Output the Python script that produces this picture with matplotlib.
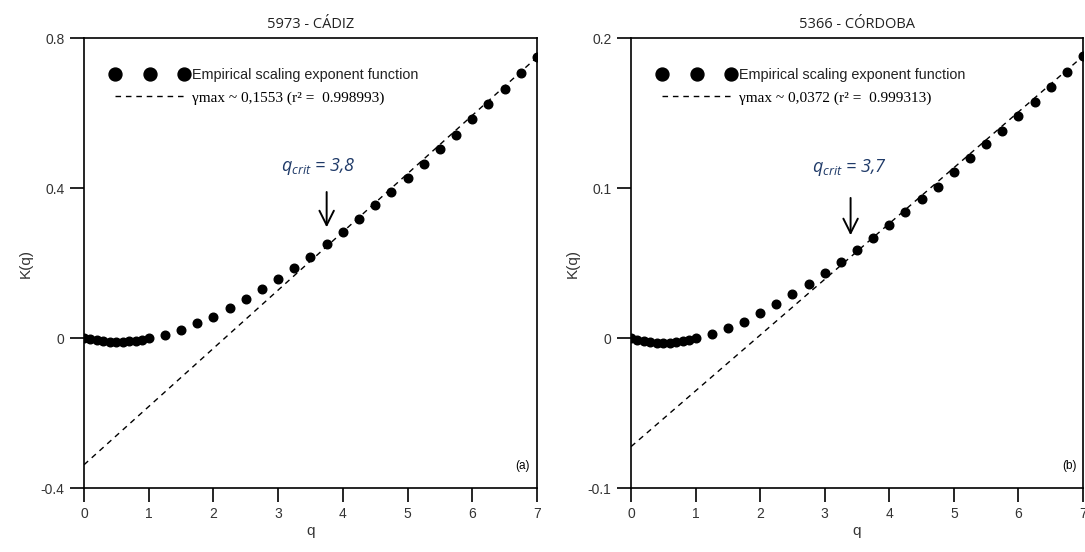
import matplotlib
matplotlib.use('Agg')
import matplotlib.pyplot as plt
import numpy as np

# q values: 0..1 step 0.1, then 1.25..7 step 0.25
q = [0.0, 0.1, 0.2, 0.3, 0.4, 0.5, 0.6, 0.7, 0.8, 0.9, 1.0,
     1.25, 1.5, 1.75, 2.0, 2.25, 2.5, 2.75, 3.0, 3.25, 3.5, 3.75,
     4.0, 4.25, 4.5, 4.75, 5.0, 5.25, 5.5, 5.75, 6.0, 6.25, 6.5, 6.75, 7.0]

# Empirical K(q)
k_cadiz = [0.0, -0.003, -0.006, -0.008, -0.010, -0.011, -0.010, -0.009, -0.007, -0.004, 0.0,
           0.008, 0.021, 0.040, 0.056, 0.080, 0.104, 0.131, 0.157, 0.187, 0.216, 0.251,
           0.283, 0.317, 0.355, 0.389, 0.427, 0.464, 0.504, 0.541, 0.584, 0.624, 0.664, 0.707, 0.749]
k_cordoba = [0.0, -0.0010, -0.0018, -0.0025, -0.0030, -0.0033, -0.0032, -0.0029, -0.0022, -0.0012, 0.0,
             0.0027, 0.0067, 0.0107, 0.0167, 0.0227, 0.0293, 0.0360, 0.0433, 0.0507, 0.0587, 0.0667,
             0.0753, 0.0840, 0.0927, 0.1010, 0.1107, 0.1200, 0.1293, 0.1380, 0.1480, 0.1573, 0.1673, 0.1773, 0.1880]

# linear fits (slope = gamma_max)
slope = [0.1553, 0.0372]
intercept = [-0.338, -0.0724]
r2 = ['0.998993', '0.999313']
qcrit = ['3,8', '3,7']

titles = ['5973 - CÁDIZ', '5366 - CÓRDOBA']
panel = ['(a)', '(b)']
ylims = [(-0.4, 0.8), (-0.1, 0.2)]
yticks = [[-0.4, 0, 0.4, 0.8], [-0.1, 0, 0.1, 0.2]]
yticklabels = [['-0.4', '0', '0.4', '0.8'], ['-0.1', '0', '0.1', '0.2']]
arrow_x = [3.75, 3.4]
arrow_y = [(0.397, 0.288), (0.0953, 0.0667)]
text_xy = [(3.05, 0.445), (2.8, 0.111)]

plt.rcParams['font.family'] = ['Liberation Sans', 'DejaVu Sans']
plt.rcParams['mathtext.fontset'] = 'custom'
plt.rcParams['mathtext.it'] = 'Open Sans:italic'
plt.rcParams['mathtext.rm'] = 'Open Sans:italic'

fig = plt.figure(figsize=(10.85, 5.52), dpi=100)
axes = [fig.add_axes([0.0774, 0.1159, 0.4175, 0.815]),
        fig.add_axes([0.5816, 0.1159, 0.4166, 0.815])]

data = [k_cadiz, k_cordoba]
for i, ax in enumerate(axes):
    ax.plot(q, data[i], 'o', color='black', markersize=6.2,
            label='Empirical scaling exponent function', zorder=3)
    xs = np.linspace(0, 7, 50)
    ax.plot(xs, slope[i] * xs + intercept[i], '--', color='black', lw=1.0,
            dashes=(4, 3.5), label='γmax ~ %s (r² =  %s)' % (('%.4f' % slope[i]).replace('.', ','), r2[i]))

    ax.set_xlim(0, 7)
    ax.set_ylim(*ylims[i])
    ax.set_xticks(range(8))
    ax.set_yticks(yticks[i])
    ax.set_yticklabels(yticklabels[i])
    ax.tick_params(direction='out', length=10, width=1.2, labelsize=10, colors='black', labelcolor='#333333', pad=4)
    for s in ax.spines.values():
        s.set_linewidth(1.2)
    ax.set_xlabel('q', fontsize=11, color='#333333', labelpad=2)
    ax.set_ylabel('K(q)', fontsize=11, color='#333333', labelpad=6)
    ax.set_title(titles[i], fontsize=10.5, family='Open Sans', color='#222222', pad=7)

    leg = ax.legend(loc='upper left', bbox_to_anchor=(0.03, 0.963), frameon=False, numpoints=3,
                    handlelength=5.4, handletextpad=0.25, fontsize=10.4, labelspacing=0.65,
                    markerscale=1.5)
    leg.get_texts()[0].set_color('#222222')
    leg.get_texts()[1].set_family('Liberation Serif')
    leg.get_texts()[1].set_fontsize(11)

    ax.annotate('', xy=(arrow_x[i], arrow_y[i][1]), xytext=(arrow_x[i], arrow_y[i][0]),
                arrowprops=dict(arrowstyle='->', color='black', lw=1.4, mutation_scale=26))
    ax.text(text_xy[i][0], text_xy[i][1], r'$q_{crit}$ = ' + qcrit[i], fontsize=13,
            family='Open Sans', style='italic', color='#1f3a68')
    ax.text(0.985, 0.035, panel[i], transform=ax.transAxes, ha='right', va='bottom', fontsize=8.5)

fig.savefig('out.png', dpi=100)
